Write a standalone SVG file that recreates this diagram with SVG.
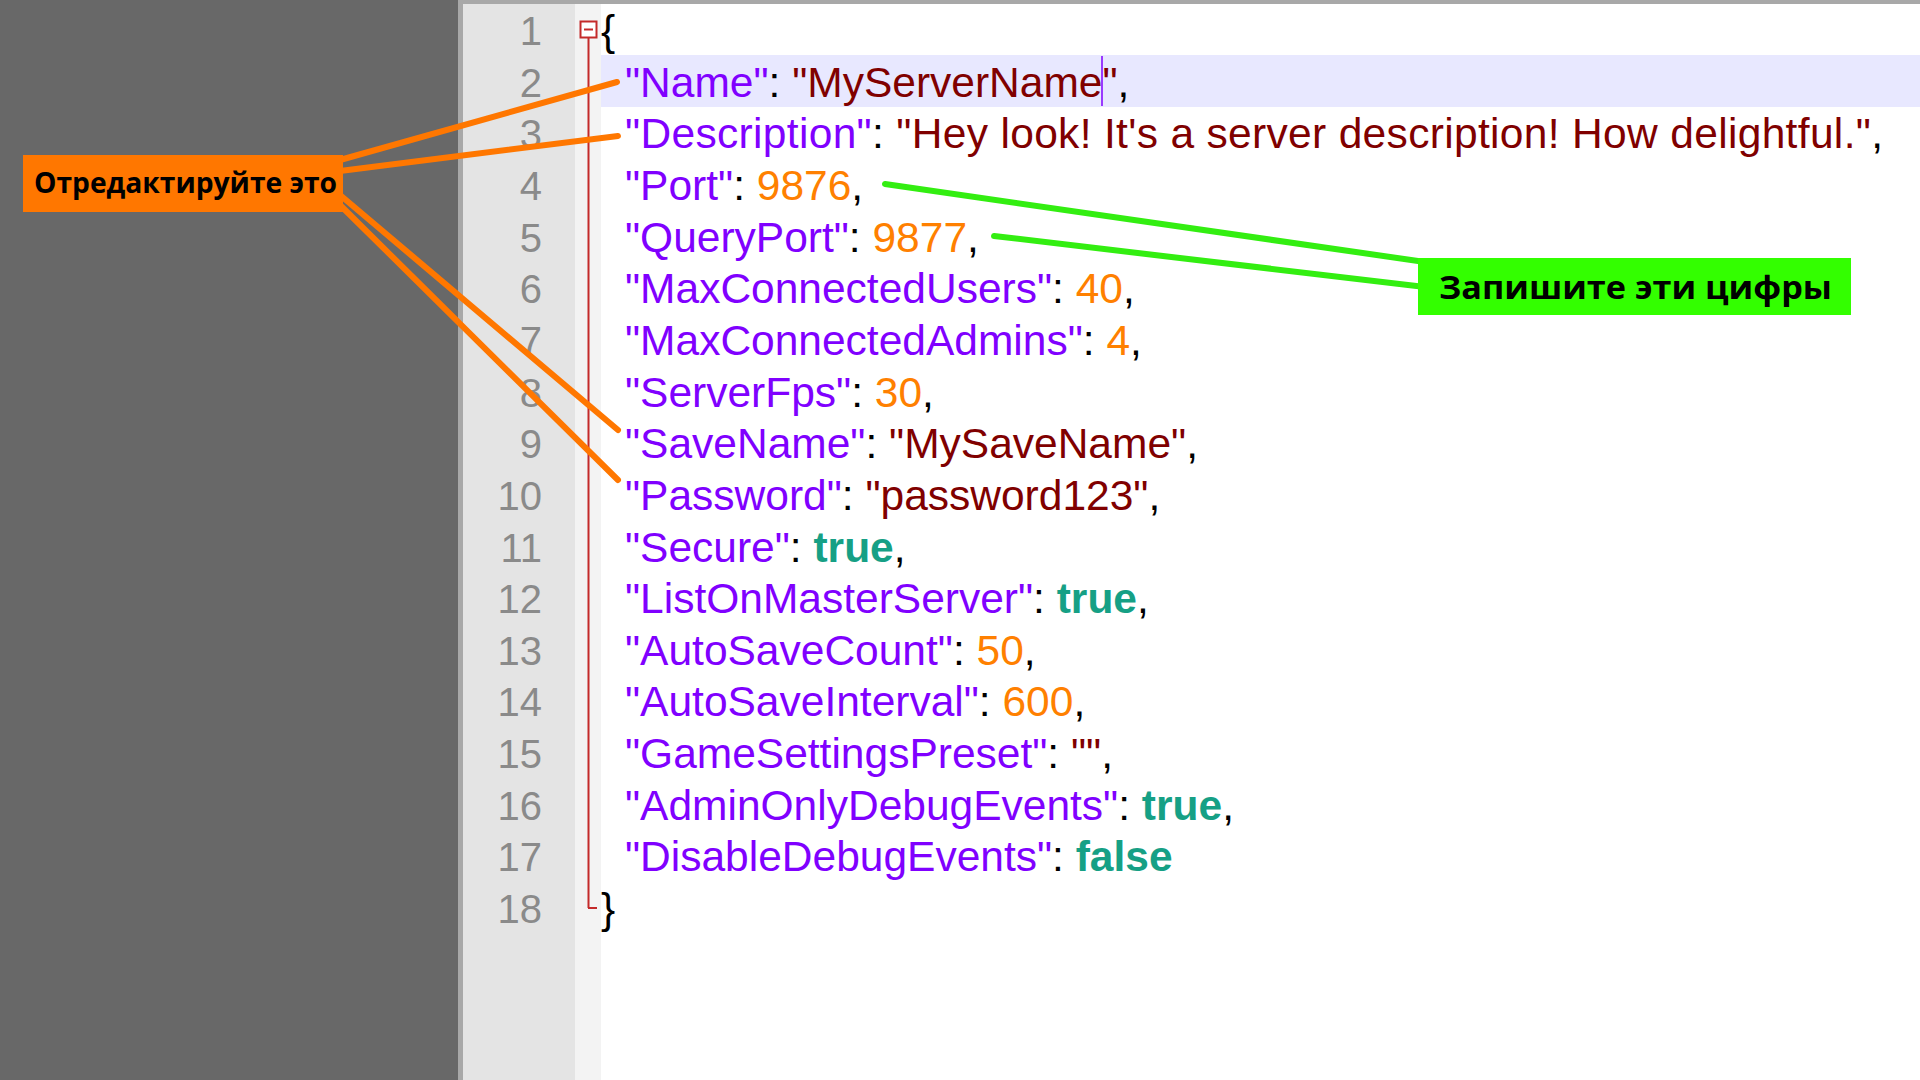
<svg xmlns="http://www.w3.org/2000/svg" width="1920" height="1080" viewBox="0 0 1920 1080">
<style>
.code{font-family:"Liberation Sans",Arial,sans-serif;font-size:42.5px;white-space:pre}
.ln{font-family:"Liberation Sans",Arial,sans-serif;font-size:40px;fill:#8a8a8a;text-anchor:end}
.k{fill:#8000ff}
.s{fill:#800000}
.n{fill:#ff8000}
.b{fill:#16a085;font-weight:bold}
.p{fill:#000000}
.fold{stroke:#c42a2a;stroke-width:2;fill:none}
.callout{font-family:"Open Sans","Noto Sans","DejaVu Sans",sans-serif;font-weight:bold;fill:#000000}
.orange{stroke:#ff7700;stroke-width:6;stroke-linecap:round;fill:none}
.green{stroke:#33ee11;stroke-width:6;stroke-linecap:round;fill:none}
</style>
<g id="background">
<rect x="0" y="0" width="1920" height="1080" fill="#686868"/>
<rect x="458" y="0" width="1462" height="1080" fill="#a8a8a8"/>
<rect x="463" y="4" width="112" height="1076" fill="#e4e4e4"/>
<rect x="575" y="4" width="26" height="1076" fill="#f3f3f3"/>
<rect x="601" y="4" width="1319" height="1076" fill="#ffffff"/>
<rect x="601" y="55" width="1319" height="52" fill="#e8e8ff"/>
</g>
<g id="fold">
<line class="fold" x1="588.5" y1="38" x2="588.5" y2="908"/>
<line class="fold" x1="588" y1="908" x2="597" y2="908"/>
<rect class="fold" x="580.5" y="21.5" width="16" height="16" fill="#ffffff" style="fill:#ffffff"/>
<line class="fold" x1="584" y1="29.5" x2="593" y2="29.5"/>
</g>
<g id="line-numbers">
<text class="ln" x="542" y="45">1</text>
<text class="ln" x="542" y="96.65">2</text>
<text class="ln" x="542" y="148.3">3</text>
<text class="ln" x="542" y="199.95">4</text>
<text class="ln" x="542" y="251.6">5</text>
<text class="ln" x="542" y="303.25">6</text>
<text class="ln" x="542" y="354.9">7</text>
<text class="ln" x="542" y="406.55">8</text>
<text class="ln" x="542" y="458.2">9</text>
<text class="ln" x="542" y="509.85">10</text>
<text class="ln" x="542" y="561.5">11</text>
<text class="ln" x="542" y="613.15">12</text>
<text class="ln" x="542" y="664.8">13</text>
<text class="ln" x="542" y="716.45">14</text>
<text class="ln" x="542" y="768.1">15</text>
<text class="ln" x="542" y="819.75">16</text>
<text class="ln" x="542" y="871.4">17</text>
<text class="ln" x="542" y="923.05">18</text>
</g>
<g id="code">
<text class="code p" x="601" y="45">{</text>
<text class="code" x="625" y="96.65"><tspan class="k">"Name"</tspan><tspan class="p">: </tspan><tspan class="s">"MyServerName"</tspan><tspan class="p">,</tspan></text>
<text class="code" x="625" y="148.3" textLength="1258" lengthAdjust="spacing"><tspan class="k">"Description"</tspan><tspan class="p">: </tspan><tspan class="s">"Hey look! It's a server description! How delightful."</tspan><tspan class="p">,</tspan></text>
<text class="code" x="625" y="199.95"><tspan class="k">"Port"</tspan><tspan class="p">: </tspan><tspan class="n">9876</tspan><tspan class="p">,</tspan></text>
<text class="code" x="625" y="251.6"><tspan class="k">"QueryPort"</tspan><tspan class="p">: </tspan><tspan class="n">9877</tspan><tspan class="p">,</tspan></text>
<text class="code" x="625" y="303.25"><tspan class="k">"MaxConnectedUsers"</tspan><tspan class="p">: </tspan><tspan class="n">40</tspan><tspan class="p">,</tspan></text>
<text class="code" x="625" y="354.9"><tspan class="k">"MaxConnectedAdmins"</tspan><tspan class="p">: </tspan><tspan class="n">4</tspan><tspan class="p">,</tspan></text>
<text class="code" x="625" y="406.55"><tspan class="k">"ServerFps"</tspan><tspan class="p">: </tspan><tspan class="n">30</tspan><tspan class="p">,</tspan></text>
<text class="code" x="625" y="458.2"><tspan class="k">"SaveName"</tspan><tspan class="p">: </tspan><tspan class="s">"MySaveName"</tspan><tspan class="p">,</tspan></text>
<text class="code" x="625" y="509.85"><tspan class="k">"Password"</tspan><tspan class="p">: </tspan><tspan class="s">"password123"</tspan><tspan class="p">,</tspan></text>
<text class="code" x="625" y="561.5"><tspan class="k">"Secure"</tspan><tspan class="p">: </tspan><tspan class="b">true</tspan><tspan class="p">,</tspan></text>
<text class="code" x="625" y="613.15"><tspan class="k">"ListOnMasterServer"</tspan><tspan class="p">: </tspan><tspan class="b">true</tspan><tspan class="p">,</tspan></text>
<text class="code" x="625" y="664.8"><tspan class="k">"AutoSaveCount"</tspan><tspan class="p">: </tspan><tspan class="n">50</tspan><tspan class="p">,</tspan></text>
<text class="code" x="625" y="716.45"><tspan class="k">"AutoSaveInterval"</tspan><tspan class="p">: </tspan><tspan class="n">600</tspan><tspan class="p">,</tspan></text>
<text class="code" x="625" y="768.1"><tspan class="k">"GameSettingsPreset"</tspan><tspan class="p">: </tspan><tspan class="s">""</tspan><tspan class="p">,</tspan></text>
<text class="code" x="625" y="819.75"><tspan class="k">"AdminOnlyDebugEvents"</tspan><tspan class="p">: </tspan><tspan class="b">true</tspan><tspan class="p">,</tspan></text>
<text class="code" x="625" y="871.4"><tspan class="k">"DisableDebugEvents"</tspan><tspan class="p">: </tspan><tspan class="b">false</tspan></text>
<text class="code p" x="601" y="923.05">}</text>
<line x1="1102" y1="56" x2="1102" y2="106" stroke="#8000ff" stroke-width="1.5"/>
</g>
<g id="connectors">
<line class="orange" x1="340" y1="160" x2="617" y2="82"/>
<line class="orange" x1="340" y1="171" x2="618" y2="136"/>
<line class="orange" x1="340" y1="195" x2="618" y2="430"/>
<line class="orange" x1="340" y1="205" x2="618" y2="480"/>
<line class="green" x1="885" y1="184" x2="1425" y2="262"/>
<line class="green" x1="994" y1="236" x2="1425" y2="287"/>
</g>
<g id="node-edit">
<rect x="23" y="155" width="320" height="57" fill="#ff7700"/>
<text class="callout" x="34" y="193" font-size="29" textLength="303" lengthAdjust="spacingAndGlyphs">Отредактируйте это</text>
</g>
<g id="node-write">
<rect x="1418" y="258" width="433" height="57" fill="#33ff00"/>
<text class="callout" x="1439" y="299" font-size="33" textLength="393" lengthAdjust="spacingAndGlyphs">Запишите эти цифры</text>
</g>
</svg>
